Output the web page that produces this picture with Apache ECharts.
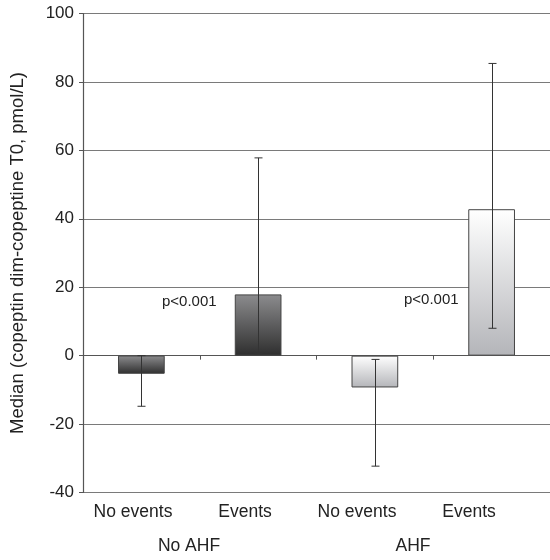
<!DOCTYPE html>
<html><head><meta charset="utf-8">
<script src="https://cdn.jsdelivr.net/npm/echarts@6/dist/echarts.min.js"></script>
<style>html,body{margin:0;padding:0;background:#fff}#c{width:550px;height:560px}</style>
</head><body><div id="c"></div>
<script>
var categories = ['No events', 'Events', 'No events', 'Events'];
var groups = ['No AHF', 'AHF'];
var medians = [-5.3, 17.9, -9.3, 42.8];
var errLow = [-14.8, 0.6, -32.3, 8.0];
var errHigh = [0, 57.8, -1.1, 85.4];
var pLabels = ['p<0.001', 'p<0.001'];
var yTicks = [-40, -20, 0, 20, 40, 60, 80, 100];

var dark = {type:'linear',x:0,y:0,x2:0,y2:1,colorStops:[{offset:0,color:'#8c8c8e'},{offset:1,color:'#2e2e2e'}]};
var light = {type:'linear',x:0,y:0,x2:0,y2:1,colorStops:[{offset:0,color:'#ffffff'},{offset:1,color:'#b4b5b9'}]};
var fills = [dark, dark, light, light];

var chart = echarts.init(document.getElementById('c'));
var font = 'Liberation Sans, Arial, sans-serif';
chart.setOption({
  animation: false,
  grid: [
    {left: 81, top: 13.5, width: 470, height: 479},
    {left: 77, top: 13.5, width: 448, height: 479}
  ],
  xAxis: [
    {gridIndex: 0, type: 'category', data: categories, position: 'bottom',
     axisLine: {onZero: true, lineStyle: {color: '#555', width: 1}},
     axisTick: {show: true, inside: false, length: 4, lineStyle: {color: '#555'}},
     axisLabel: {show: false}, splitLine: {show: false}},
    {gridIndex: 1, type: 'category', data: categories, position: 'bottom',
     axisLine: {show: false}, axisTick: {show: false},
     axisLabel: {fontFamily: font, fontSize: 17.5, color: '#222', margin: 11, interval: 0}},
    {gridIndex: 1, type: 'category', data: groups, position: 'bottom', offset: 34,
     axisLine: {show: false}, axisTick: {show: false},
     axisLabel: {fontFamily: font, fontSize: 17.5, color: '#222', margin: 11, interval: 0}}
  ],
  yAxis: [
    {gridIndex: 0, type: 'value', min: -40, max: 100, interval: 20,
     name: 'Median (copeptin dim-copeptine T0, pmol/L)', nameLocation: 'middle', nameGap: 56,
     nameTextStyle: {fontFamily: font, fontSize: 18.5, color: '#222'},
     axisLine: {show: true, lineStyle: {color: '#555', width: 1.2}},
     axisTick: {show: true, length: 4, lineStyle: {color: '#555'}},
     axisLabel: {fontFamily: font, fontSize: 17, color: '#222', margin: 9},
     splitLine: {show: true, lineStyle: {color: '#7a7a7a', width: 1.2}}},
    {gridIndex: 1, type: 'value', min: -40, max: 100, show: false}
  ],
  series: [
    {type: 'bar', xAxisIndex: 0, yAxisIndex: 0, barWidth: '40%',
     data: medians.map(function(v, i){ return {value: v, itemStyle: {color: fills[i], borderColor: '#444', borderWidth: 1}}; })},
    {type: 'custom', xAxisIndex: 0, yAxisIndex: 0, z: 5,
     data: categories.map(function(c, i){ return [i, errLow[i], errHigh[i]]; }),
     renderItem: function(params, api){
       var lo = api.coord([api.value(0), api.value(1)]);
       var hi = api.coord([api.value(0), api.value(2)]);
       var x = Math.round(lo[0]) + 0.5, w = 4;
       var st = {stroke: '#333', lineWidth: 1};
       return {type: 'group', children: [
         {type: 'line', shape: {x1: x, y1: lo[1], x2: x, y2: hi[1]}, style: st},
         {type: 'line', shape: {x1: x - w, y1: lo[1], x2: x + w, y2: lo[1]}, style: st},
         {type: 'line', shape: {x1: x - w, y1: hi[1], x2: x + w, y2: hi[1]}, style: st}
       ]};
     }}
  ],
  graphic: [
    {type: 'text', left: 162, top: 294, style: {text: pLabels[0], font: '15px Liberation Sans, Arial, sans-serif', fill: '#222'}},
    {type: 'text', left: 404, top: 292, style: {text: pLabels[1], font: '15px Liberation Sans, Arial, sans-serif', fill: '#222'}}
  ]
});
</script></body></html>
